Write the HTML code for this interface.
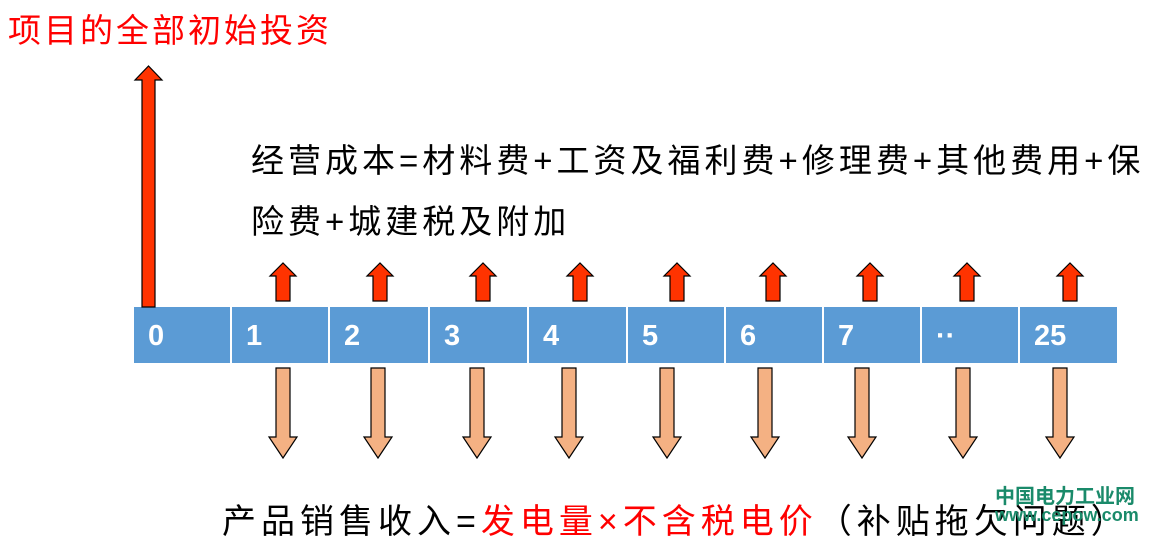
<!DOCTYPE html>
<html><head><meta charset="utf-8"><style>
body{margin:0;width:1171px;height:548px;background:#fff;position:relative;overflow:hidden;font-family:"Liberation Sans","Noto Sans CJK SC",sans-serif}
.t{position:absolute;white-space:nowrap}
.cell{position:absolute;top:307px;height:56px;background:#5b9bd5;color:#fff;font:bold 29px "Liberation Sans",sans-serif;line-height:58px;box-sizing:border-box;padding-left:14px}
</style></head><body>
<div class="t" style="left:8px;top:4px;font-size:33px;letter-spacing:3px;color:#ff0000">项目的全部初始投资</div>
<div class="t" style="left:251px;top:134px;font-size:33px;letter-spacing:4px;color:#000">经营成本=材料费+工资及福利费+修理费+其他费用+保</div>
<div class="t" style="left:251px;top:195px;font-size:33px;letter-spacing:4px;color:#000">险费+城建税及附加</div>
<div class="t" style="left:222px;top:494px;font-size:34px;letter-spacing:5px;color:#000">产品销售收入=<span style="color:#ff0000">发电量×不含税电价</span>（补贴拖欠问题）</div>
<div class="t" style="left:995px;top:480px;font:bold 20px 'Noto Sans CJK SC',sans-serif;color:#1a8a6a">中国电力工业网</div>
<div class="t" style="left:995px;top:505px;font:bold 18px 'Liberation Sans',sans-serif;color:#1a8a6a">www.cepow.com</div>

<div class="cell" style="left:134px;width:96px">0</div>
<div class="cell" style="left:232px;width:96px">1</div>
<div class="cell" style="left:330px;width:98px">2</div>
<div class="cell" style="left:430px;width:97px">3</div>
<div class="cell" style="left:529px;width:97px">4</div>
<div class="cell" style="left:628px;width:96px">5</div>
<div class="cell" style="left:726px;width:96px">6</div>
<div class="cell" style="left:824px;width:96px">7</div>
<div class="cell" style="left:922px;width:96px">··</div>
<div class="cell" style="left:1020px;width:97px">25</div>

<svg width="1171" height="548" style="position:absolute;left:0;top:0">
<defs>
<polygon id="u" points="-7,301 7,301 7,276 13,276 0,263 -13,276 -7,276" fill="#ff3300" stroke="#000" stroke-width="1.2"/>
<polygon id="d" points="-7,368 7,368 7,437 14,437 0,458 -14,437 -7,437" fill="#f4b183" stroke="#000" stroke-width="1.2"/>
</defs>
<polygon points="142,307 155,307 155,80 162,80 148.5,66 135,80 142,80" fill="#ff3300" stroke="#000" stroke-width="1.2"/>
<use href="#u" x="283"/><use href="#u" x="380"/><use href="#u" x="483"/><use href="#u" x="580"/><use href="#u" x="677"/><use href="#u" x="773"/><use href="#u" x="870"/><use href="#u" x="967"/><use href="#u" x="1070"/>
<use href="#d" x="283"/><use href="#d" x="378"/><use href="#d" x="477"/><use href="#d" x="569"/><use href="#d" x="667"/><use href="#d" x="765"/><use href="#d" x="862"/><use href="#d" x="963"/><use href="#d" x="1060"/>
</svg>
</body></html>
